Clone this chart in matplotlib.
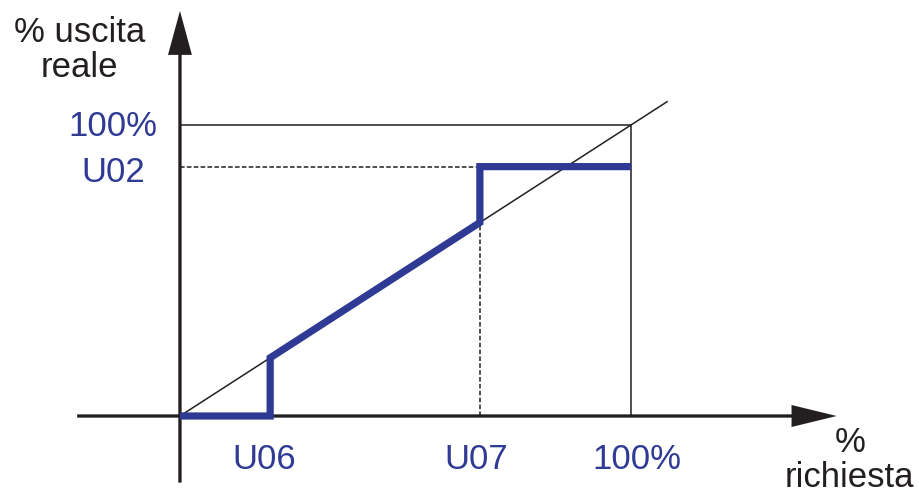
import matplotlib.pyplot as plt

# soglie (frazione di 100%)
U06 = 0.20
U07 = 0.665
U02 = 0.857

# curva uscita reale vs richiesta
curve_x = [0.0, U06, U06, U07, U07, 1.0]
curve_y = [0.0, 0.0, U06, U07, U02, U02]

x_ticks = [U06, U07, 1.0]
x_tick_labels = ['U06', 'U07', '100%']
y_ticks = [1.0, U02]
y_tick_labels = ['100%', 'U02']

BLUE = '#2f3a94'
BLACK = '#231f20'
FS = 25

plt.rcParams['font.family'] = ['Liberation Sans', 'DejaVu Sans']

fig = plt.figure(figsize=(9.19, 4.93), dpi=100)
ax = fig.add_axes([0, 0, 1, 1])
ax.set_xlim(-0.399, 1.6386)
ax.set_ylim(-0.2646, 1.4296)
ax.axis('off')

# assi con frecce
ax.arrow(-0.228, 0, 1.684, 0, width=0.0113, head_width=0.0756, head_length=0.1,
         length_includes_head=True, color=BLACK, lw=0, zorder=3)
ax.arrow(0, -0.229, 0, 1.621, width=0.0073, head_width=0.053, head_length=0.151,
         length_includes_head=True, color=BLACK, lw=0, zorder=3)

# diagonale di riferimento
ax.plot([0, 1.08], [0, 1.08], color=BLACK, lw=1.1, zorder=2)

# riquadro 100%
ax.plot([0, 1.0, 1.0], [1.0, 1.0, 0], color=BLACK, lw=1.1, zorder=2)

# linee tratteggiate
ax.plot([0, U07], [U02, U02], color=BLACK, lw=1.1, ls=(0, (3, 1.5)), zorder=2)
ax.plot([U07, U07], [0, U07], color=BLACK, lw=1.1, ls=(0, (3, 1.5)), zorder=2)

# curva
ax.plot(curve_x, curve_y, color=BLUE, lw=5.2, solid_joinstyle='miter',
        solid_capstyle='butt', zorder=4)

# etichette
label_dx = [-0.013, -0.008, 0.013]
for x, lab, dx in zip(x_ticks, x_tick_labels, label_dx):
    ax.text(x + dx, -0.182, lab, color=BLUE, fontsize=FS, ha='center', va='baseline')
ax.text(-0.1486, 0.962, y_tick_labels[0], color=BLUE, fontsize=FS, ha='center', va='baseline')
ax.text(-0.1486, 0.805, y_tick_labels[1], color=BLUE, fontsize=FS, ha='center', va='baseline')

ax.text(-0.222, 1.286, '% uscita', color=BLACK, fontsize=FS, ha='center', va='baseline')
ax.text(-0.222, 1.166, 'reale', color=BLACK, fontsize=FS, ha='center', va='baseline')
ax.text(1.486, -0.1227, '%', color=BLACK, fontsize=FS, ha='center', va='baseline')
ax.text(1.484, -0.2429, 'richiesta', color=BLACK, fontsize=FS, ha='center', va='baseline')

fig.savefig('out.png', dpi=100)
